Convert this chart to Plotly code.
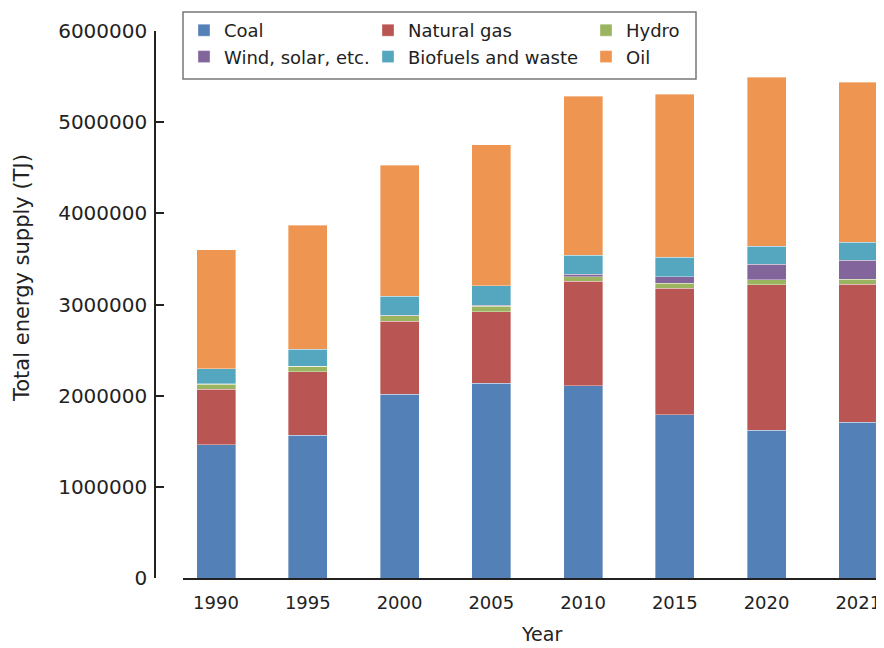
import plotly.graph_objects as go

years = ["1990", "1995", "2000", "2005", "2010", "2015", "2020", "2021"]
coal = [1459000, 1565000, 2015000, 2135000, 2109000, 1791000, 1623000, 1711000]
natural_gas = [614000, 698000, 804000, 786000, 1145000, 1390000, 1594000, 1510000]
hydro = [52000, 58000, 58000, 60000, 51000, 51000, 52000, 55000]
wind_solar = [4000, 4000, 4000, 10000, 29000, 73000, 172000, 209000]
biofuels = [167000, 183000, 212000, 212000, 205000, 216000, 197000, 197000]
oil = [1305000, 1364000, 1434000, 1550000, 1748000, 1784000, 1854000, 1758000]
y_ticks = [0, 1000000, 2000000, 3000000, 4000000, 5000000, 6000000]

# page body has an 8px margin; figure is sized/placed to compensate
OFF = 8
W, H = 884 - OFF, 648 - OFF
T = 31 - OFF
B = H - (578 - OFF)
PH = H - T - B


def px_x(p):
    return (p - OFF) / W


def px_y(p):
    return (H - B - (p - OFF)) / PH


FONT = "DejaVu Sans"
series = [
    ("Coal", coal, "#5380b6", "legend"),
    ("Natural gas", natural_gas, "#b95552", "legend2"),
    ("Hydro", hydro, "#9bb45f", "legend3"),
    ("Wind, solar, etc.", wind_solar, "#82669b", "legend"),
    ("Biofuels and waste", biofuels, "#55a7bf", "legend2"),
    ("Oil", oil, "#ee9651", "legend3"),
]

fig = go.Figure()
for name, vals, color, leg in series:
    fig.add_trace(go.Bar(
        x=years, y=vals, name=name, legend=leg,
        marker=dict(color=color, line=dict(color="rgba(255,255,255,0.6)", width=0.6)),
    ))

leg_common = dict(
    xanchor="left", yanchor="top", bgcolor="rgba(0,0,0,0)",
    borderwidth=0, font=dict(family=FONT, size=18, color="#222"),
    traceorder="normal",
)

fig.update_layout(
    width=W, height=H,
    margin=dict(l=0, r=0, t=T, b=B, autoexpand=False),
    paper_bgcolor="white", plot_bgcolor="white",
    barmode="stack", bargap=0.575,
    font=dict(family=FONT, color="#222"),
    xaxis=dict(
        type="category", domain=[px_x(183), 1], range=[-0.36, 7.28],
        showline=True, linecolor="#222", linewidth=2, ticks="",
        tickfont=dict(family=FONT, size=18, color="#222"),
        ticklabelstandoff=7,
        showgrid=False, zeroline=False,
    ),
    yaxis=dict(
        range=[0, 6000000], anchor="free", position=px_x(155),
        showline=True, linecolor="#222", linewidth=1.5,
        ticks="inside", ticklen=8, tickwidth=1.5, tickcolor="#222",
        tickvals=y_ticks, tickformat="d",
        tickfont=dict(family=FONT, size=20, color="#222"),
        ticklabelstandoff=3,
        showgrid=False, zeroline=False,
    ),
    legend=dict(x=px_x(184), y=px_y(12), **leg_common),
    legend2=dict(x=px_x(368), y=px_y(12), **leg_common),
    legend3=dict(x=px_x(586), y=px_y(12), **leg_common),
    shapes=[dict(
        type="rect", xref="paper", yref="paper",
        x0=px_x(183), x1=px_x(696), y0=px_y(79), y1=px_y(12),
        line=dict(color="#777", width=1.5), fillcolor="rgba(0,0,0,0)",
    )],
    annotations=[
        dict(text="Total energy supply (TJ)", xref="paper", yref="paper",
             x=px_x(22), y=px_y(278), textangle=-90, showarrow=False,
             xanchor="center", yanchor="middle",
             font=dict(family=FONT, size=21, color="#222")),
        dict(text="Year", xref="paper", yref="paper",
             x=px_x(541), y=px_y(647), showarrow=False,
             xanchor="center", yanchor="bottom",
             font=dict(family=FONT, size=19, color="#222")),
    ],
)

fig.write_html("out.html")
